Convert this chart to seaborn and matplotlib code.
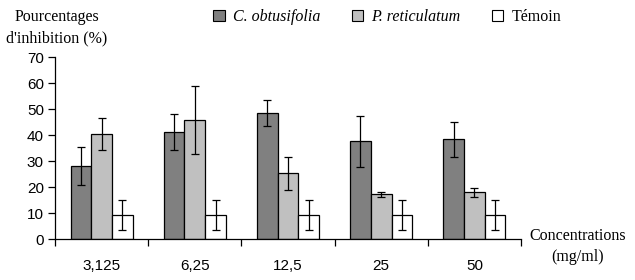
import numpy as np
import pandas as pd
import matplotlib
matplotlib.use("Agg")
import matplotlib.pyplot as plt
from matplotlib.patches import Patch
import seaborn as sns

# Data
concentrations = ["3,125", "6,25", "12,5", "25", "50"]
series = ["C. obtusifolia", "P. reticulatum", "Témoin"]
c_obtusifolia = [28.2, 41.2, 48.5, 37.8, 38.4]
c_obtusifolia_err = [7.2, 7.0, 5.1, 9.8, 6.9]
p_reticulatum = [40.5, 45.8, 25.4, 17.3, 18.1]
p_reticulatum_err = [6.0, 13.0, 6.4, 1.0, 1.8]
temoin = [9.3, 9.3, 9.3, 9.3, 9.3]
temoin_err = [5.7, 5.7, 5.7, 5.7, 5.7]
colors = ["#808080", "#c0c0c0", "#ffffff"]

df = pd.DataFrame({
    "conc": concentrations * 3,
    "serie": np.repeat(series, len(concentrations)),
    "value": c_obtusifolia + p_reticulatum + temoin,
    "err": c_obtusifolia_err + p_reticulatum_err + temoin_err,
})

sns.set_style("ticks")
plt.rcParams["font.family"] = ["Liberation Serif", "DejaVu Serif"]
plt.rcParams.update({"text.color": "black", "xtick.color": "black",
                     "ytick.color": "black", "axes.labelcolor": "black"})

fig = plt.figure(figsize=(6.35, 2.8), dpi=100)
ax = fig.add_axes([55 / 635, 1 - 239.3 / 280, (521 - 55) / 635, (239.3 - 57.3) / 280])

sns.barplot(data=df, x="conc", y="value", hue="serie", order=concentrations,
            hue_order=series, palette=colors, width=0.667, errorbar=None,
            edgecolor="black", linewidth=0.9, legend=False, ax=ax)

# error bars on top of each bar
for cont, s in zip(ax.containers, series):
    sub = df[df["serie"] == s].set_index("conc").loc[concentrations]
    xs = [b.get_x() + b.get_width() / 2 for b in cont]
    ax.errorbar(xs, sub["value"], yerr=sub["err"], fmt="none", ecolor="black",
                elinewidth=0.9, capsize=3, capthick=0.9, zorder=5)

ax.set_ylim(0, 70)
ax.set_xlim(-0.5, len(concentrations) - 0.5)
ax.set_yticks(range(0, 71, 10))
ax.set_xlabel("")
ax.set_ylabel("")
ax.tick_params(axis="x", which="major", length=0, pad=14)
ax.set_xticks(np.arange(-0.5, len(concentrations)), minor=True)
ax.tick_params(axis="x", which="minor", length=5, width=0.9, direction="out")
ax.tick_params(axis="y", length=5, width=0.9, direction="out", pad=3)
for lab in ax.get_xticklabels() + ax.get_yticklabels():
    lab.set_fontfamily("Liberation Sans")
    lab.set_fontsize(11)
sns.despine(ax=ax)
for sp in ["left", "bottom"]:
    ax.spines[sp].set_linewidth(0.9)
    ax.spines[sp].set_color("black")

fig.text(57 / 635, 1 - 17 / 280, "Pourcentages", ha="center", va="center", fontsize=11.5)
fig.text(57 / 635, 1 - 38 / 280, "d'inhibition (%)", ha="center", va="center", fontsize=11.5)
fig.text(578 / 635, 1 - 236 / 280, "Concentrations", ha="center", va="center", fontsize=11.5)
fig.text(578 / 635, 1 - 257 / 280, "(mg/ml)", ha="center", va="center", fontsize=11.5)

handles = [Patch(facecolor=c, edgecolor="black", linewidth=0.8) for c in colors]
leg = fig.legend(handles, series, loc="center left", bbox_to_anchor=(207 / 635, 1 - 17 / 280),
                 ncol=3, frameon=False, fontsize=11.5, handlelength=0.7, handleheight=0.7,
                 handletextpad=0.5, columnspacing=2.0, borderaxespad=0)
for t in leg.get_texts()[:2]:
    t.set_fontstyle("italic")

fig.savefig("out.png", dpi=100)
